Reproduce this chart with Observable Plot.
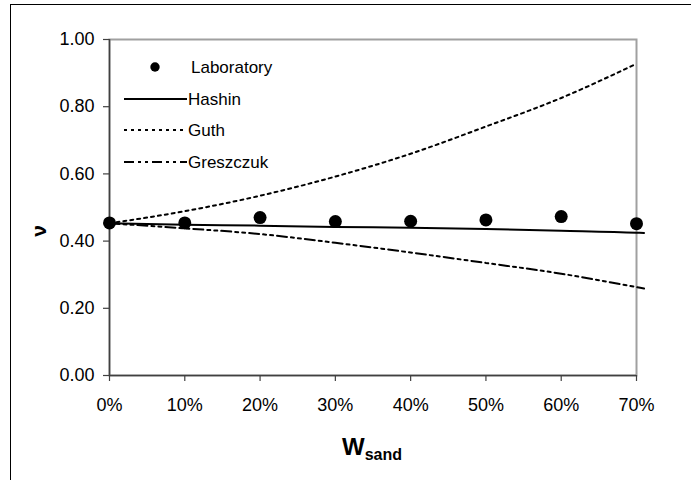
<!DOCTYPE html>
<html>
<head>
<meta charset="utf-8">
<script src="https://cdn.jsdelivr.net/npm/d3@7"></script>
<script src="https://cdn.jsdelivr.net/npm/@observablehq/plot@0.6"></script>
<style>
  html, body { margin: 0; padding: 0; background: #fff; }
  #wrap { position: relative; width: 691px; height: 480px; overflow: hidden; font-family: "Liberation Sans", Arial, sans-serif; }
  #border { position: absolute; left: 10px; top: 4px; width: 700px; height: 500px; border-left: 1px solid #000; border-top: 1px solid #000; }
  #chart, #legend { position: absolute; left: 0; top: 0; }
</style>
</head>
<body>
<div id="wrap">
  <div id="border"></div>
  <div id="chart"></div>
  <svg id="legend" width="691" height="480"></svg>
</div>
<script>
// Sand weight fraction
const wSand = [0, 0.1, 0.2, 0.3, 0.4, 0.5, 0.6, 0.7];
// Measured Poisson's ratio
const laboratory = [0.454, 0.454, 0.470, 0.458, 0.459, 0.463, 0.473, 0.452];
// Model predictions (lines run slightly past the last tick)
const modelX = [0, 0.1, 0.2, 0.3, 0.4, 0.5, 0.6, 0.7, 0.71];
const hashin = [0.453, 0.449, 0.446, 0.442, 0.440, 0.436, 0.431, 0.425, 0.424];
const guth = [0.453, 0.489, 0.535, 0.592, 0.660, 0.741, 0.826, 0.928, null];
const greszczuk = [0.453, 0.438, 0.421, 0.395, 0.366, 0.335, 0.303, 0.263, 0.259];
const yTicks = [0, 0.2, 0.4, 0.6, 0.8, 1.0];

const seriesNames = ["Laboratory", "Hashin", "Guth", "Greszczuk"];
const dashes = {Hashin: null, Guth: "3,4", Greszczuk: "10,4,3,4,3,4"};

const labRows = wSand.map((x, i) => ({x, y: laboratory[i]}));
const modelRows = [];
for (const [name, vals] of [["Hashin", hashin], ["Guth", guth], ["Greszczuk", greszczuk]]) {
  modelX.forEach((x, i) => { if (vals[i] != null) modelRows.push({series: name, x, y: vals[i]}); });
}

const fontFamily = '"Liberation Sans", Arial, sans-serif';
const pct = d => Math.round(d * 100) + "%";

const chart = Plot.plot({
  width: 691,
  height: 480,
  marginLeft: 109,
  marginRight: 55,
  marginTop: 39,
  marginBottom: 105,
  style: {fontFamily, fontSize: "18px", color: "#000", background: "transparent", overflow: "visible"},
  x: {domain: [0, 0.7], label: null},
  y: {domain: [0, 1], label: null},
  marks: [
    Plot.frame({stroke: "#a0a0a0", strokeWidth: 2}),
    Plot.ruleX([0], {stroke: "#404040", strokeWidth: 1.5}),
    Plot.ruleY([0], {stroke: "#404040", strokeWidth: 1.5}),
    ...["Hashin", "Guth", "Greszczuk"].map(name =>
      Plot.line(modelRows.filter(d => d.series === name), {
        x: "x", y: "y", stroke: "#000", strokeWidth: 2,
        strokeDasharray: dashes[name], curve: "monotone-x", clip: false
      })
    ),
    Plot.dot(labRows, {x: "x", y: "y", r: 6.5, fill: "#000", stroke: "none"}),
    Plot.axisX({ticks: wSand, tickFormat: pct, tickSize: 6, tickPadding: 17, stroke: "#404040", strokeWidth: 1.2, fontSize: 18}),
    Plot.axisY({ticks: yTicks, tickFormat: d3.format(".2f"), tickSize: 6, tickPadding: 9, stroke: "#404040", strokeWidth: 1.2, fontSize: 18})
  ]
});
document.getElementById("chart").append(chart);

// Axis titles
const svg = d3.select(chart);
svg.append("text")
  .attr("transform", "translate(46,231) rotate(-90)")
  .attr("text-anchor", "middle")
  .attr("font-family", fontFamily)
  .attr("font-weight", "bold")
  .attr("font-size", 21)
  .text("ν");
const xt = svg.append("text")
  .attr("x", 372).attr("y", 455)
  .attr("text-anchor", "middle")
  .attr("font-family", fontFamily)
  .attr("font-weight", "bold")
  .attr("font-size", 24);
xt.append("tspan").text("W");
xt.append("tspan").attr("font-size", 16).attr("dy", 5).text("sand");

// Legend
const leg = d3.select("#legend");
const rowY = [67, 99, 130, 162];
seriesNames.forEach((name, i) => {
  const g = leg.append("g").attr("transform", `translate(0,${rowY[i]})`);
  if (name === "Laboratory") {
    g.append("circle").attr("cx", 155).attr("cy", 0).attr("r", 4.7).attr("fill", "#000");
  } else {
    g.append("line").attr("x1", 124).attr("x2", 187).attr("y1", 0).attr("y2", 0)
      .attr("stroke", "#000").attr("stroke-width", 2)
      .attr("stroke-dasharray", dashes[name]);
  }
  g.append("text").attr("x", name === "Laboratory" ? 191 : 188).attr("y", 0).attr("dy", "0.35em")
    .attr("font-family", fontFamily).attr("font-size", 17).text(name);
});
</script>
</body>
</html>
